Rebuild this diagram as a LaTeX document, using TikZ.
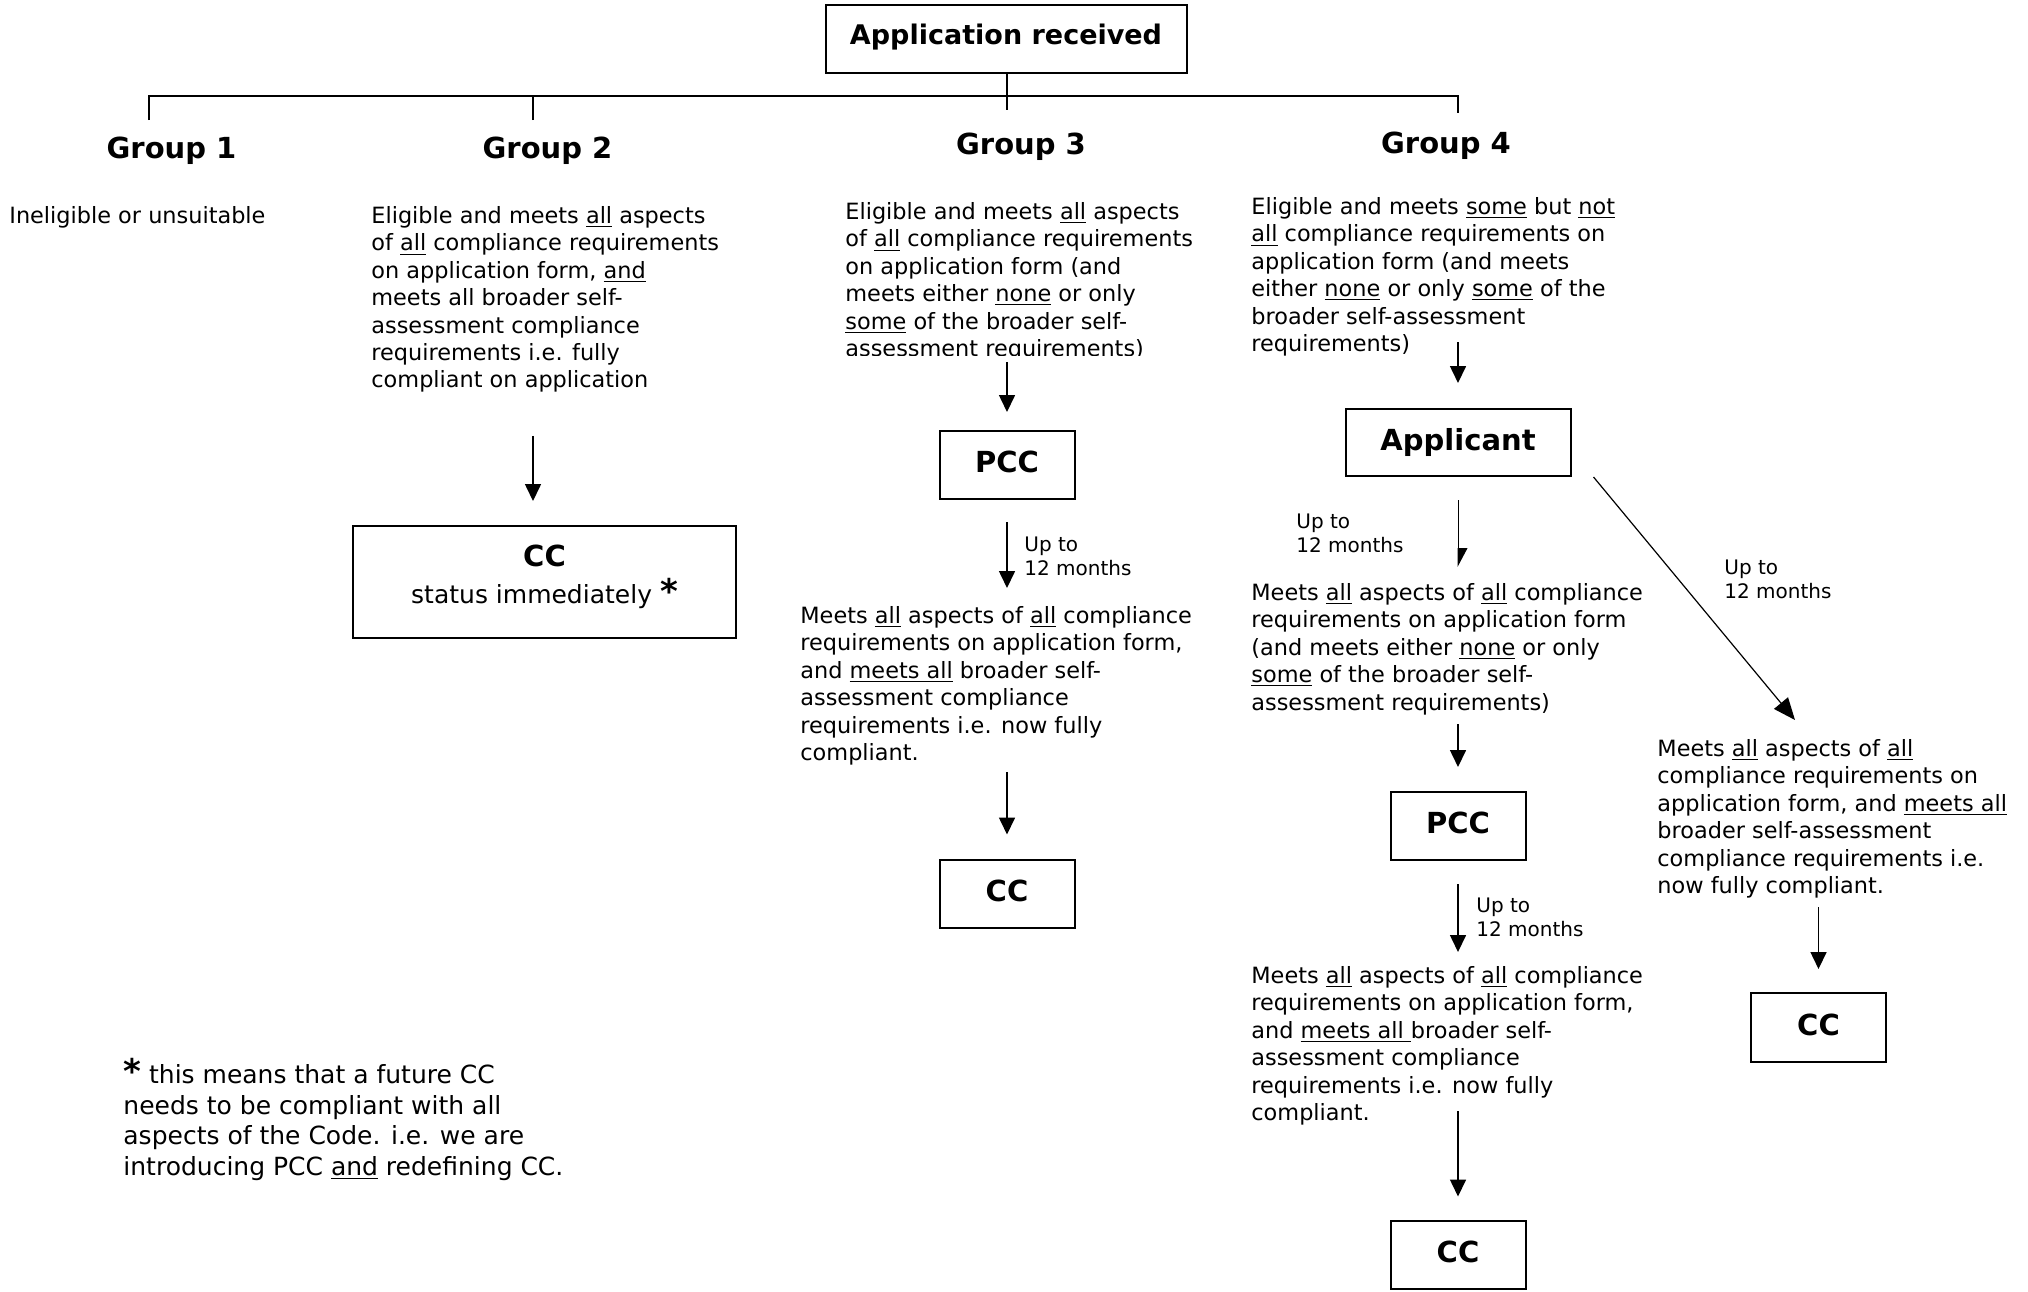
\documentclass[tikz,border=0pt]{standalone}
\usepackage{fontspec}
\setmainfont{DejaVu Sans}
\usetikzlibrary{arrows.meta}

\newcommand{\bodyfont}{\fontsize{11.2}{13.7}\selectfont}
\newcommand{\headfont}{\fontsize{14.5}{17}\selectfont\bfseries}
\newcommand{\lblfont}{\fontsize{10}{11.6}\selectfont}
\newcommand{\notefont}{\fontsize{12.5}{15.3}\selectfont}
\newcommand{\bigstar}{{\fontsize{17}{17}\selectfont\bfseries *}}

\tikzset{
  box/.style={draw, line width=1pt, inner sep=0pt, font=\headfont,
    text height=11pt, text depth=3.4pt},
  txt/.style={anchor=north west, align=left, inner sep=0pt, font=\bodyfont},
  lbl/.style={anchor=north west, align=left, inner sep=0pt, font=\lblfont},
  head/.style={anchor=base, inner sep=0pt, font=\headfont},
  tree/.style={line width=0.75pt},
  arr/.style={line width=0.8pt, -{Triangle[width=8pt,length=8.5pt]}},
  thinarr/.style={line width=0.5pt, -{Triangle[width=9.4pt,length=9pt,left]}},
  diagarr/.style={line width=0.6pt, -{Triangle[width=9pt,length=11pt]}},
}

\begin{document}
\begin{tikzpicture}[x=0.5pt,y=-0.5pt]
  \useasboundingbox (0,0) rectangle (2028,1291);

  % Top box and tree
  \node[box, minimum width=180.5pt, minimum height=34pt, text depth=6pt] (app) at (1006,39)
    {\fontsize{13.5}{16}\selectfont Application received};
  \coordinate (t1) at (149,120);
  \coordinate (t2) at (533,120);
  \coordinate (t3) at (1007,110);
  \coordinate (t4) at (1458,113);
  \coordinate (bar) at (0,96);
  \draw[tree] (t1) -- (t1 |- bar) -- (t4 |- bar) -- (t4);
  \draw[tree] (t2) -- (t2 |- bar);
  \draw[tree] (app.south -| t3) -- (t3);

  \node[head] (grp1) at (171.5,158) {Group 1};
  \node[head] (grp2) at (547.5,158) {Group 2};
  \node[head] (grp3) at (1021,154) {Group 3};
  \node[head] (grp4) at (1446,153) {Group 4};

  % Group texts
  \node[txt] (g1txt) at (9,206) {Ineligible or unsuitable};
  \node[txt] (g2txt) at (371,206) {Eligible and meets \underline{all} aspects\\
    of \underline{all} compliance requirements\\
    on application form, \underline{and}\\
    meets all broader self-\\
    assessment compliance\\
    requirements i.e. fully\\
    compliant on application};
  \begin{scope}
    \clip (800,150) rectangle (1240,355);
    \node[txt] (g3txt) at (845,202) {Eligible and meets \underline{all} aspects\\
      of \underline{all} compliance requirements\\
      on application form (and\\
      meets either \underline{none} or only\\
      \underline{some} of the broader self-\\
      assessment requirements)};
  \end{scope}
  \node[txt] (g4txt) at (1251,197) {Eligible and meets \underline{some} but \underline{not}\\
    \underline{all} compliance requirements on\\
    application form (and meets\\
    either \underline{none} or only \underline{some} of the\\
    broader self-assessment\\
    requirements)};

  % Group 2
  \node[draw, line width=1pt, minimum width=191.5pt, minimum height=56pt, inner sep=0pt,
    font=\notefont] (cctwo) at (544.5,582)
    {\raisebox{1.7pt}[\height][\depth]{\begin{tabular}{@{}c@{}}
      {\headfont CC}\\[1.2pt] status immediately \bigstar
    \end{tabular}}};
  \draw[arr, shorten <=21.5pt, shorten >=12pt] (g2txt.south -| t2) -- (cctwo.north -| t2);

  % Group 3
  \node[box, minimum width=67.5pt, minimum height=34pt] (pccthree) at (1007,465) {PCC};
  \node[txt] (m3txt) at (800,606) {Meets \underline{all} aspects of \underline{all} compliance\\
    requirements on application form,\\
    and \underline{meets all} broader self-\\
    assessment compliance\\
    requirements i.e. now fully\\
    compliant.};
  \node[box, minimum width=67.5pt, minimum height=34pt] (ccthree) at (1007,893.5) {CC};
  \node[lbl] (l3) at (1024,537) {Up to\\12 months};
  \draw[arr, shorten <=0.5pt, shorten >=9pt] (g3txt.south -| pccthree) -- (pccthree);
  \draw[arr, shorten <=11pt, shorten >=9pt] (pccthree) -- (m3txt.north -| pccthree);
  \draw[arr, shorten <=3.3pt, shorten >=12pt] (m3txt.south -| ccthree) -- (ccthree);

  % Group 4
  \node[box, minimum width=112.5pt, minimum height=33.5pt] (applicant) at (1458,442.5) {Applicant};
  \node[txt] (m4txt) at (1251,583) {Meets \underline{all} aspects of \underline{all} compliance\\
    requirements on application form\\
    (and meets either \underline{none} or only\\
    \underline{some} of the broader self-\\
    assessment requirements)};
  \node[box, minimum width=67.5pt, minimum height=34pt] (pccfour) at (1458,826) {PCC};
  \node[txt] (bttxt) at (1251,966) {Meets \underline{all} aspects of \underline{all} compliance\\
    requirements on application form,\\
    and \underline{meets all }broader self-\\
    assessment compliance\\
    requirements i.e. now fully\\
    compliant.};
  \node[box, minimum width=67.5pt, minimum height=34pt] (ccfour) at (1458,1254.5) {CC};
  \node[txt] (mrtxt) at (1657,739) {Meets \underline{all} aspects of \underline{all}\\
    compliance requirements on\\
    application form, and \underline{meets all}\\
    broader self-assessment\\
    compliance requirements i.e.\\
    now fully compliant.};
  \node[box, minimum width=67.5pt, minimum height=34.5pt] (ccright) at (1818.5,1027.5) {CC};
  \node[lbl] (l4a) at (1296,514) {Up to\\12 months};
  \node[lbl] (l4b) at (1724,560) {Up to\\12 months};
  \node[lbl] (l4c) at (1476,898) {Up to\\12 months};
  \draw[arr, shorten <=-7pt, shorten >=12.5pt] (g4txt.south -| applicant) -- (applicant);
  \draw[thinarr, shorten <=11.5pt, shorten >=8pt] (applicant) -- (m4txt.north -| applicant);
  \draw[arr, shorten <=4.5pt, shorten >=12pt] (m4txt.south -| pccfour) -- (pccfour);
  \draw[arr, shorten <=11.5pt, shorten >=7pt] (pccfour) -- (bttxt.north -| pccfour);
  \draw[arr, shorten <=-7pt, shorten >=11.5pt] (bttxt.south -| ccfour) -- (ccfour);
  \draw[diagarr] ([xshift=11pt]applicant.south east) -- ([shift={(138,-19)}]mrtxt.north west);
  \draw[arr, shorten <=4.5pt, shorten >=11.5pt] (mrtxt.south -| ccright) -- (ccright);

  % Note
  \node[txt, font=\notefont] (note) at (123,1058) {\bigstar\ this means that a future CC\\
    needs to be compliant with all\\
    aspects of the Code. i.e. we are\\
    introducing PCC \underline{and} redefining CC.};
\end{tikzpicture}
\end{document}
